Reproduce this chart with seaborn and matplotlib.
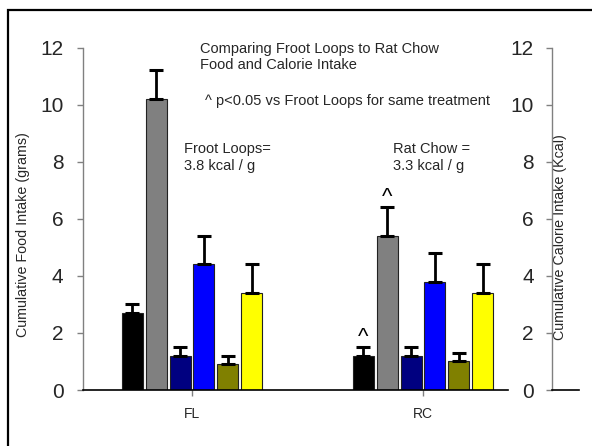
import matplotlib
matplotlib.use("Agg")
import matplotlib.pyplot as plt
import seaborn as sns
import pandas as pd
from matplotlib.patches import Rectangle

# ---- data ----
diets = ["FL", "RC"]
treatments = ["Treatment 1", "Treatment 2", "Treatment 3", "Treatment 4", "Treatment 5", "Treatment 6"]
fl_means = [2.7, 10.2, 1.2, 4.4, 0.9, 3.4]
fl_errs = [0.3, 1.0, 0.3, 1.0, 0.3, 1.0]
rc_means = [1.2, 5.4, 1.2, 3.8, 1.0, 3.4]
rc_errs = [0.3, 1.0, 0.3, 1.0, 0.3, 1.0]
sig_rc = [True, True, False, False, False, False]
colors = ["#000000", "#808080", "#000080", "#0000FF", "#808000", "#FFFF00"]
yticks = [0, 2, 4, 6, 8, 10, 12]

df = pd.DataFrame({
    "diet": [d for d in diets for _ in treatments],
    "treatment": treatments * 2,
    "mean": fl_means + rc_means,
    "err": fl_errs + rc_errs,
})

sns.set_theme(style="white")
plt.rcParams["font.family"] = ["Liberation Sans", "DejaVu Sans"]

W, H = 592, 446
fig = plt.figure(figsize=(W / 100, H / 100), dpi=100)

def fx(x):
    return x / W

def fy(y):
    return 1 - y / H

# main axes
x0, x1, ytop, ybot = 83, 508, 47.5, 390
ax = fig.add_axes([fx(x0), fy(ybot), fx(x1) - fx(x0), fy(ytop) - fy(ybot)])
sns.barplot(data=df, x="diet", y="mean", hue="treatment", order=diets,
            hue_order=treatments, palette=colors, width=0.62, gap=0.12,
            errorbar=None, edgecolor="#222222", linewidth=0.8, saturation=1,
            legend=False, ax=ax)

hexcols = [matplotlib.colors.to_hex(c) for c in colors]
# error bars (upper only), positioned from bar patches
for patch in ax.patches:
    h = patch.get_height()
    if h <= 0:
        continue
    xc = patch.get_x() + patch.get_width() / 2
    diet = diets[int(round(xc))]
    ti = hexcols.index(matplotlib.colors.to_hex(patch.get_facecolor()))
    r = df[(df["diet"] == diet) & (df["treatment"] == treatments[ti])].iloc[0]
    ax.errorbar(xc, r["mean"], yerr=[[0], [r["err"]]], fmt="none",
                ecolor="black", elinewidth=2.0, capsize=5, capthick=2.2, zorder=1)
    if diet == "RC" and sig_rc[ti]:
        ax.annotate("^", (xc, r["mean"] + r["err"]), xytext=(0, 7),
                    textcoords="offset points", ha="center", va="center",
                    fontsize=16, color="black")

ax.set_xlim(-0.472, 1.368)
ax.set_ylim(0, 12)
ax.set_yticks(yticks)
ax.set_yticklabels([str(t) for t in yticks], fontsize=15)
ax.set_xlabel("")
ax.set_ylabel("Cumulative Food Intake (grams)", fontsize=10.3)
ax.yaxis.set_label_coords((30 - x0) / (x1 - x0), (ybot - 234.5) / (ybot - ytop))
for s in ["top", "right"]:
    ax.spines[s].set_visible(False)
ax.spines["left"].set_color("#808080")
ax.spines["left"].set_linewidth(1.0)
ax.spines["bottom"].set_color("black")
ax.spines["bottom"].set_linewidth(1.2)
ax.tick_params(axis="y", which="major", left=True, length=4, width=1,
               color="#808080", pad=10)
ax.tick_params(axis="x", which="major", bottom=True, length=4, width=1,
               color="#808080", labelsize=10, pad=8)

# right axis (calories)
rx0, rx1 = 552, 579
ax2 = fig.add_axes([fx(rx0), fy(ybot), fx(rx1) - fx(rx0), fy(ytop) - fy(ybot)])
ax2.set_facecolor("none")
ax2.set_ylim(0, 12)
ax2.set_xlim(0, 1)
ax2.set_xticks([])
ax2.set_yticks(yticks)
ax2.set_yticklabels([str(t) for t in yticks], fontsize=15)
for s in ["top", "right"]:
    ax2.spines[s].set_visible(False)
ax2.spines["left"].set_color("#808080")
ax2.spines["left"].set_linewidth(1.0)
ax2.spines["bottom"].set_color("black")
ax2.spines["bottom"].set_linewidth(1.2)
ax2.tick_params(axis="y", left=True, length=4, width=1, color="#808080", pad=9)
ax2.set_ylabel("Cumulative Calorie Intake (Kcal)", fontsize=10.3)
ax2.yaxis.set_label_coords((567 - rx0) / (rx1 - rx0), (ybot - 237) / (ybot - ytop))

# annotations (multi-line texts anchored at the baseline of their last line)
fig.text(fx(200.5), fy(69.3), "Comparing Froot Loops to Rat Chow\nFood and Calorie Intake",
         fontsize=10.5, ha="left", va="baseline", linespacing=1.2)
fig.text(fx(205), fy(105), "^ p<0.05 vs Froot Loops for same treatment",
         fontsize=10.5, ha="left", va="baseline")
fig.text(fx(184), fy(170), "Froot Loops=\n3.8 kcal / g",
         fontsize=10.5, ha="left", va="baseline", linespacing=1.28)
fig.text(fx(393), fy(170), "Rat Chow =\n3.3 kcal / g",
         fontsize=10.5, ha="left", va="baseline", linespacing=1.28)

# outer frame
fig.patches.append(Rectangle((fx(8), fy(H + 20)), 1.2, fy(10) - fy(H + 20),
                             transform=fig.transFigure, fill=False,
                             edgecolor="black", linewidth=1.6))

fig.savefig("out.png", dpi=100)
